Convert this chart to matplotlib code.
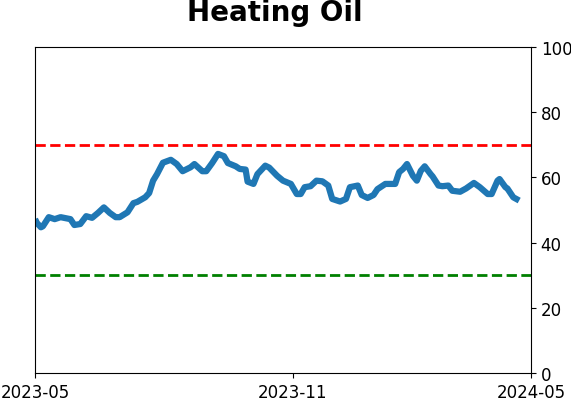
import matplotlib
matplotlib.use("Agg")
import matplotlib.pyplot as plt

# trading-day index and indicator values
day = [0, 1, 3, 4, 7, 10, 13, 18, 20, 23, 26, 29, 32, 35, 38, 41, 43, 47, 50, 52,
       56, 58, 60, 62, 65, 69, 72, 75, 79, 81, 85, 87, 90, 93, 96, 98, 102, 104, 107, 108,
       111, 113, 117, 119, 123, 126, 130, 133, 135, 137, 140, 143, 146, 149, 151, 155, 158, 160, 164, 166,
       169, 172, 174, 178, 183, 185, 187, 189, 192, 194, 196, 198, 201, 202, 205, 207, 210, 212, 216, 219,
       223, 226, 230, 232, 235, 236, 239, 240, 243, 246]
value = [47.2, 46.0, 44.7, 45.0, 47.8, 47.2, 47.8, 47.2, 45.4, 45.7, 48.1, 47.6, 49.1, 50.8, 49.1, 47.8, 47.8, 49.3, 52.1, 52.5,
         53.9, 55.2, 59.0, 61.0, 64.5, 65.4, 64.1, 61.9, 63.1, 64.1, 61.9, 61.9, 64.4, 67.2, 66.5, 64.4, 63.4, 62.6, 62.4, 58.7,
         58.0, 61.0, 63.6, 63.0, 60.5, 59.0, 58.0, 54.9, 54.9, 57.0, 57.3, 59.0, 58.8, 57.5, 53.4, 52.6, 53.4, 57.0, 57.5, 54.6,
         53.7, 54.6, 56.4, 58.0, 58.0, 61.6, 62.6, 64.1, 60.5, 59.0, 62.0, 63.4, 61.0, 60.3, 57.5, 57.3, 57.5, 55.9, 55.6, 56.6,
         58.3, 57.0, 54.9, 54.9, 59.0, 59.5, 57.0, 56.6, 53.9, 52.9]

xtick_pos = [0, 131, 252]
xtick_labels = ["2023-05", "2023-11", "2024-05"]
upper_level = 70
lower_level = 30
title = "Heating Oil"

fig = plt.figure(figsize=(5.71, 4.02), dpi=100)
ax = fig.add_axes([35/571, 28/402, 496/571, 326/402])

ax.plot(day, value, color="#1f77b4", lw=4.5, solid_joinstyle="round", solid_capstyle="butt")
ax.axhline(upper_level, color="#ff0000", lw=2, ls="--")
ax.axhline(lower_level, color="#008000", lw=2, ls="--")

ax.set_xlim(xtick_pos[0], xtick_pos[-1])
ax.set_ylim(0, 100)
ax.set_xticks(xtick_pos)
ax.set_xticklabels(xtick_labels, fontsize=12)
ax.yaxis.tick_right()
ax.set_yticks([0, 20, 40, 60, 80, 100])
ax.tick_params(axis="y", labelsize=12)

fig.text(274.5/571, 1 - 13/402, title, fontsize=20, fontweight="bold", ha="center", va="center")

fig.savefig("out.png", dpi=100)
